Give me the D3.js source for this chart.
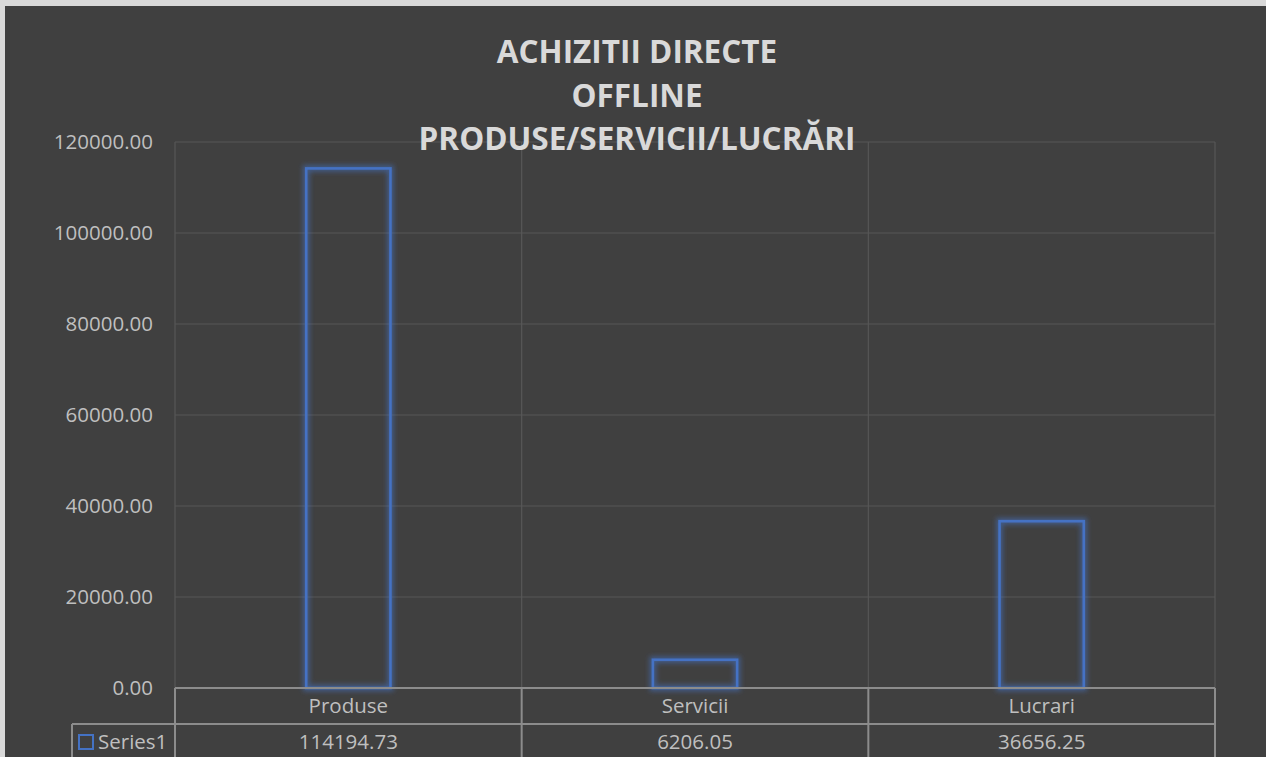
<!DOCTYPE html>
<html>
<head>
<meta charset="utf-8">
<script src="https://cdn.jsdelivr.net/npm/d3@7"></script>
<style>
  body { margin: 0; background: #d9d9d9; }
  svg { display: block; }
</style>
</head>
<body>
<script>
// Chart data
const categories = ['Produse', 'Servicii', 'Lucrari'];
const values = [114194.73, 6206.05, 36656.25];
const seriesName = 'Series1';
const yTicks = [0, 20000, 40000, 60000, 80000, 100000, 120000];
const titleLines = ['ACHIZITII DIRECTE', 'OFFLINE', 'PRODUSE/SERVICII/LUCRĂRI'];

// Layout
const width = 1266;
const height = 757;
const plot = {left: 175, right: 1215, top: 142, bottom: 688};
const rowH = 36;
const legendLeft = 72;

const svg = d3.select('body')
  .append('svg')
  .attr('width', width)
  .attr('height', height);

// glow for bars
const defs = svg.append('defs');
const glow = defs.append('filter')
  .attr('id', 'glow')
  .attr('x', '-30%').attr('y', '-30%')
  .attr('width', '160%').attr('height', '160%');
glow.append('feMorphology')
  .attr('in', 'SourceGraphic')
  .attr('operator', 'dilate')
  .attr('radius', 1.5)
  .attr('result', 'fat');
glow.append('feGaussianBlur')
  .attr('in', 'fat')
  .attr('stdDeviation', 2.5)
  .attr('result', 'blur');
glow.append('feComponentTransfer')
  .attr('in', 'blur')
  .attr('result', 'soft')
  .append('feFuncA')
  .attr('type', 'linear')
  .attr('slope', 0.55);
const merge = glow.append('feMerge');
merge.append('feMergeNode').attr('in', 'soft');
merge.append('feMergeNode').attr('in', 'SourceGraphic');

// chart background (light frame on top / left like the source)
svg.append('rect')
  .attr('x', 5).attr('y', 6)
  .attr('width', width - 5).attr('height', height - 6)
  .attr('fill', '#404040');

// Scales
const x = d3.scaleBand()
  .domain(categories)
  .range([plot.left, plot.right])
  .padding(0);

const y = d3.scaleLinear()
  .domain([0, 120000])
  .range([plot.bottom, plot.top]);

// Gridlines
const grid = svg.append('g').classed('grid', true);
grid.selectAll('line.h')
  .data(yTicks)
  .join('line')
  .attr('class', 'h')
  .attr('x1', plot.left).attr('x2', plot.right)
  .attr('y1', d => y(d)).attr('y2', d => y(d))
  .attr('stroke', '#575757')
  .attr('stroke-width', 1.2);

const bounds = categories.map(c => x(c)).concat([plot.right]);
grid.selectAll('line.v')
  .data(bounds)
  .join('line')
  .attr('class', 'v')
  .attr('x1', d => d).attr('x2', d => d)
  .attr('y1', plot.top).attr('y2', plot.bottom)
  .attr('stroke', '#575757')
  .attr('stroke-width', 1.2);

// Y axis
const yAxis = d3.axisLeft(y)
  .tickValues(yTicks)
  .tickFormat(d3.format('.2f'))
  .tickSize(0)
  .tickPadding(0);

svg.append('g')
  .classed('axis y', true)
  .attr('transform', 'translate(153,0)')
  .call(yAxis)
  .call(g => g.select('.domain').remove())
  .selectAll('text')
  .attr('fill', '#bfbfbf')
  .attr('font-family', '"Open Sans", sans-serif')
  .attr('font-size', 20.5)
  .attr('dy', '0.32em');

// Bars
const barW = x.bandwidth() * 0.243;
svg.append('g')
  .classed('bars', true)
  .selectAll('rect')
  .data(values)
  .join('rect')
  .attr('x', (d, i) => x(categories[i]) + (x.bandwidth() - barW) / 2)
  .attr('y', d => y(d))
  .attr('width', barW)
  .attr('height', d => y(0) - y(d))
  .attr('fill', 'none')
  .attr('stroke', '#4472c4')
  .attr('stroke-width', 2.6)
  .attr('filter', 'url(#glow)');

// Title
svg.append('g')
  .classed('title', true)
  .selectAll('text')
  .data(titleLines)
  .join('text')
  .attr('x', 637)
  .attr('y', (d, i) => 63 + i * 43.5)
  .attr('text-anchor', 'middle')
  .attr('fill', '#d9d9d9')
  .attr('font-family', '"Open Sans", sans-serif')
  .attr('font-weight', 'bold')
  .attr('font-size', 31.5)
  .text(d => d);

// Data table
const table = svg.append('g').classed('table', true);
const tStroke = '#8c8c8c';
const rowTop = plot.bottom;
const rowMid = plot.bottom + rowH;
const rowBot = height + 5;

table.append('line')
  .attr('x1', plot.left).attr('x2', plot.right)
  .attr('y1', rowTop).attr('y2', rowTop);
table.append('line')
  .attr('x1', legendLeft).attr('x2', plot.right)
  .attr('y1', rowMid).attr('y2', rowMid);
table.selectAll('line.tv')
  .data(bounds)
  .join('line')
  .attr('class', 'tv')
  .attr('x1', d => d).attr('x2', d => d)
  .attr('y1', rowTop).attr('y2', rowBot);
table.append('line')
  .attr('x1', legendLeft).attr('x2', legendLeft)
  .attr('y1', rowMid).attr('y2', rowBot);
table.selectAll('line')
  .attr('stroke', tStroke)
  .attr('stroke-width', 2);

const cellFont = g => g
  .attr('fill', '#bfbfbf')
  .attr('font-family', '"Open Sans", sans-serif')
  .attr('font-size', 20.5)
  .attr('text-anchor', 'middle');

table.selectAll('text.cat')
  .data(categories)
  .join('text')
  .attr('class', 'cat')
  .attr('x', d => x(d) + x.bandwidth() / 2)
  .attr('y', rowTop + rowH / 2)
  .attr('dy', '0.35em')
  .call(cellFont)
  .text(d => d);

table.selectAll('text.val')
  .data(values)
  .join('text')
  .attr('class', 'val')
  .attr('x', (d, i) => x(categories[i]) + x.bandwidth() / 2)
  .attr('y', rowMid + 18)
  .attr('dy', '0.35em')
  .call(cellFont)
  .text(d => d3.format('.2f')(d));

// legend key in the table
table.append('rect')
  .attr('x', 79).attr('y', 735)
  .attr('width', 14).attr('height', 14)
  .attr('fill', 'none')
  .attr('stroke', '#4472c4')
  .attr('stroke-width', 2);
table.append('text')
  .attr('x', 98)
  .attr('y', rowMid + 18)
  .attr('dy', '0.35em')
  .call(cellFont)
  .attr('text-anchor', 'start')
  .text(seriesName);
</script>
</body>
</html>
